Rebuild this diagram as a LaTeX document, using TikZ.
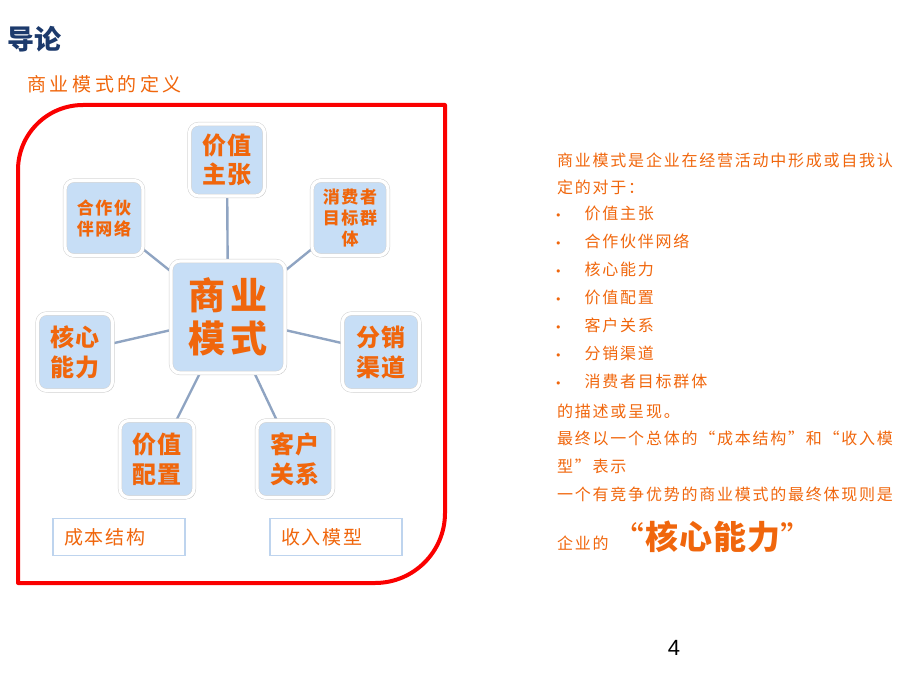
\documentclass[tikz,border=0pt]{standalone}
\usepackage{fontspec}
\newfontfamily\cjk{Noto Sans CJK SC}
\newfontfamily\dv{DejaVu Sans}
\setsansfont{Liberation Sans}
\usetikzlibrary{shadows,backgrounds}
\definecolor{orng}{RGB}{240,102,12}
\definecolor{titleblue}{RGB}{28,58,108}
\definecolor{nodefill}{RGB}{199,222,246}
\definecolor{connc}{RGB}{143,164,194}
\definecolor{boxedge}{RGB}{190,212,238}
\definecolor{framered}{RGB}{250,0,0}
\newcommand{\fs}[3]{\fontsize{#1}{#2}\selectfont\addfontfeature{LetterSpace=#3}}
\newcommand{\bul}{{\dv\fontsize{11}{11}\selectfont •}\hspace{23pt}}
\tikzset{
  bubble/.style={rounded corners=9pt, fill=nodefill, draw=black!18, double=white,
    double distance=3.2pt, line width=0.5pt, inner sep=0pt, align=center, text=orng,
    drop shadow={shadow xshift=1.5pt, shadow yshift=-1.5pt, opacity=0.25, fill=black}},
  conn/.style={draw=connc, line width=2.4pt},
  costbox/.style={draw=boxedge, line width=1.6pt, fill=white, text=orng, text width=110pt,
    inner xsep=11pt, inner ysep=0pt, minimum height=37pt, align=left},
  rtext/.style={anchor=west, inner sep=0pt, text=orng, font=\cjk\fs{16}{16}{11}}
}
\begin{document}
\begin{tikzpicture}[x=1pt,y=-1pt]
\useasboundingbox (0,0) rectangle (920,690);
% titles
\node[anchor=west, inner sep=0pt, text=titleblue, font=\cjk\bfseries\fs{27}{27}{1}] (title) at (7,39) {导论};
\node[anchor=west, inner sep=0pt, text=orng, font=\cjk\fs{19}{19}{19}] (sub) at (27,84) {商业模式的定义};
% red frame
\draw[framered, line width=4pt, line join=round] (18,170) .. controls (18,134.1) and (47.1,105) .. (83,105)
  -- (445,105) -- (445,513) .. controls (445,551.7) and (413.7,583) .. (375,583) -- (18,583) -- cycle;
% nodes
\node[bubble, minimum width=75pt, minimum height=72pt, font=\cjk\bfseries\fs{24}{29}{8}] (vp) at (227,160) {价值\\主张};
\node[bubble, minimum width=78pt, minimum height=75pt, font=\cjk\bfseries\fs{17}{21}{10}] (pn) at (104,218) {合作伙\\伴网络};
\node[bubble, minimum width=76pt, minimum height=75pt, font=\cjk\bfseries\fs{17}{21}{10}] (cs) at (350,218) {消费者\\目标群\\体};
\node[bubble, minimum width=114pt, minimum height=112pt, font=\cjk\bfseries\fs{37}{43}{14}] (bm) at (228,317) {商业\\模式};
\node[bubble, minimum width=75pt, minimum height=77pt, font=\cjk\bfseries\fs{24}{30}{8}] (cc) at (75,352) {核心\\能力};
\node[bubble, minimum width=77pt, minimum height=77pt, font=\cjk\bfseries\fs{24}{30}{8}] (dc) at (381,352) {分销\\渠道};
\node[bubble, minimum width=74pt, minimum height=77pt, font=\cjk\bfseries\fs{24}{30}{8}] (vc) at (157,459) {价值\\配置};
\node[bubble, minimum width=76pt, minimum height=77pt, font=\cjk\bfseries\fs{24}{30}{8}] (cr) at (295,459) {客户\\关系};
\begin{pgfonlayer}{background}
\foreach \n in {vp,pn,cs,cc,dc,vc,cr} \draw[conn] (bm) -- (\n);
\end{pgfonlayer}
% cost / revenue boxes
\node[costbox, font=\cjk\fs{19}{19}{10}] (cost) at (119,537) {成本结构};
\node[costbox, font=\cjk\fs{19}{19}{10}] (rev) at (336,537) {收入模型};
% right text
\node[rtext] (r1) at (557,160) {商业模式是企业在经营活动中形成或自我认};
\node[rtext] (r2) at (557,187) {定的对于：};
\node[rtext] (b1) at (555,213) {\bul 价值主张};
\node[rtext] (b2) at (555,241) {\bul 合作伙伴网络};
\node[rtext] (b3) at (555,269) {\bul 核心能力};
\node[rtext] (b4) at (555,297) {\bul 价值配置};
\node[rtext] (b5) at (555,325) {\bul 客户关系};
\node[rtext] (b6) at (555,353) {\bul 分销渠道};
\node[rtext] (b7) at (555,381) {\bul 消费者目标群体};
\node[rtext] (r3) at (557,411) {的描述或呈现。};
\node[rtext] (r4) at (557,438) {最终以一个总体的“成本结构”和“收入模};
\node[rtext] (r5) at (557,466) {型”表示};
\node[rtext] (r6) at (557,494) {一个有竞争优势的商业模式的最终体现则是};
\node[rtext] (r7) at (557,543) {企业的};
\node[anchor=west, inner sep=0pt, text=orng, font=\cjk\bfseries\fs{33}{33}{3}] (core) at (645,537) {核心能力};
\node[anchor=east, inner sep=0pt, text=orng, font=\cjk\fs{33}{33}{0}] (q1) at (core.west) {“};
\node[anchor=west, inner sep=0pt, text=orng, font=\cjk\fs{33}{33}{0}] (q2) at (core.east) {”};
% page number
\node[inner sep=0pt, font=\sffamily\fontsize{22}{22}\selectfont] (pg) at (674,648) {4};
\end{tikzpicture}
\end{document}
